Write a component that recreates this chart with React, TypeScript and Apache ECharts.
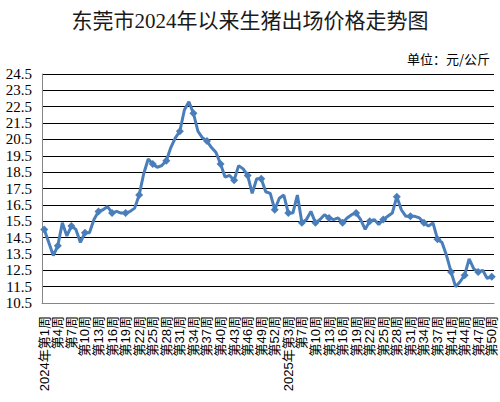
import React, { useEffect, useRef } from "react";
import * as echarts from "echarts";

const weeks2024 = [
  1, 2, 3, 4, 5, 6, 7, 8, 9, 10, 11, 12, 13, 14, 15, 16, 17, 18, 19, 20,
  21, 22, 23, 24, 25, 26, 27, 28, 29, 30, 31, 32, 33, 34, 35, 36, 37, 38, 39, 40,
  41, 42, 43, 44, 45, 46, 47, 48, 49, 50, 51, 52,
];
const weeks2025 = [
  1, 2, 3, 5, 6, 7, 8, 9, 10, 11, 12, 13, 14, 15, 16, 17, 18, 19, 20, 21,
  22, 23, 24, 25, 26, 27, 28, 29, 30, 31, 32, 33, 34, 35, 36, 37, 39, 40, 41, 42,
  43, 44, 45, 46, 47, 48, 49, 50,
];
const yearLabelWeek2025 = 3;

const prices2024 = [
  15.0, 14.2, 13.4, 14.0, 15.4, 14.6, 15.2, 15.0, 14.2, 14.8,
  14.8, 15.6, 16.1, 16.2, 16.4, 16.0, 16.1, 16.0, 16.0, 16.1,
  16.3, 17.1, 18.4, 19.3, 19.0, 18.8, 18.9, 19.2, 20.0, 20.6,
  21.0, 22.3, 22.8, 22.1, 21.0, 20.6, 20.4, 20.0, 19.7, 19.0,
  18.2, 18.3, 18.0, 18.9, 18.7, 18.3, 17.2, 18.1, 18.1, 17.3,
  17.2, 16.2,
];
const prices2025 = [
  16.9, 17.1, 16.0, 16.0, 17.1, 15.4, 15.6, 16.1, 15.4, 15.6,
  15.9, 15.7, 15.6, 15.7, 15.4, 15.7, 15.9, 16.0, 15.6, 15.0,
  15.5, 15.6, 15.3, 15.6, 15.8, 16.0, 17.0, 16.2, 15.8, 15.8,
  15.8, 15.7, 15.4, 15.2, 15.4, 14.4, 14.2, 13.4, 12.4, 11.5,
  11.8, 12.2, 13.2, 12.6, 12.4, 12.5, 12.0, 12.1,
];

const categories = [
  ...weeks2024.map((w, i) => (i === 0 ? `2024年第${w}周` : `第${w}周`)),
  ...weeks2025.map((w) => (w === yearLabelWeek2025 ? `2025年第${w}周` : `第${w}周`)),
];
const prices = [...prices2024, ...prices2025];

export default function App() {
  const ref = useRef<HTMLDivElement>(null);
  useEffect(() => {
    document.body.style.margin = "0";
    const chart = echarts.init(ref.current!, undefined, { renderer: "svg" });
    chart.setOption({
      animation: false,
      backgroundColor: "#ffffff",
      title: {
        text: "东莞市2024年以来生猪出场价格走势图",
        left: "center",
        top: 5,
        textStyle: {
          fontFamily: '"Liberation Serif", "Noto Sans CJK SC"',
          fontSize: 21,
          fontWeight: "normal",
          color: "#1a1a1a",
        },
      },
      graphic: [
        {
          type: "text",
          right: 10,
          top: 52,
          style: {
            text: "单位：元/公斤",
            font: '13px "Noto Sans CJK SC"',
            fill: "#000",
          },
        },
      ],
      grid: { left: 42, right: 6, top: 74, height: 229, containLabel: false },
      xAxis: {
        type: "category",
        data: categories,
        boundaryGap: true,
        axisLine: { lineStyle: { color: "#868686", width: 1 } },
        axisTick: { show: false },
        axisLabel: {
          interval: 2,
          rotate: 90,
          margin: 13,
          fontSize: 13,
          fontFamily: '"Liberation Sans", "Noto Sans CJK SC"',
          color: "#000",
        },
        splitLine: { show: false },
      },
      yAxis: {
        type: "value",
        min: 10.5,
        max: 24.5,
        interval: 1,
        axisLine: { show: true, lineStyle: { color: "#868686", width: 1 } },
        axisTick: { show: false },
        axisLabel: {
          margin: 10,
          fontSize: 15,
          fontFamily: '"Liberation Serif"',
          color: "#000",
          formatter: (v: number) => v.toFixed(1),
        },
        splitLine: { show: true, lineStyle: { color: "#000", width: 1 } },
      },
      series: [
        {
          type: "line",
          data: prices,
          symbol: "diamond",
          symbolSize: 8,
          lineStyle: { color: "#4A7EBB", width: 3 },
          itemStyle: { color: "#4A7EBB" },
        },
      ],
    });
    return () => chart.dispose();
  }, []);
  return (
    <div
      ref={ref}
      style={{ position: "fixed", left: 0, top: 0, width: 500, height: 402 }}
    />
  );
}
